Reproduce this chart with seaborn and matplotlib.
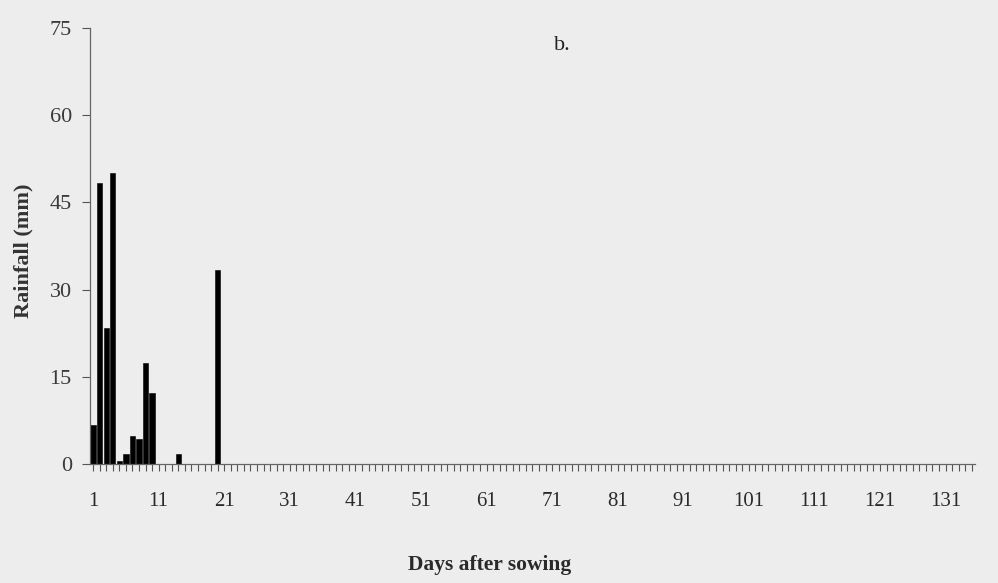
import matplotlib
matplotlib.use("Agg")
import matplotlib.pyplot as plt
import seaborn as sns
import pandas as pd

# dias com chuva (dias após semeadura) e lâmina em mm
dias_chuva = [1, 2, 3, 4, 5, 6, 7, 8, 9, 10, 14, 20]
chuva_mm = [6.7, 48.4, 23.4, 50.1, 0.6, 1.7, 4.8, 4.3, 17.3, 12.3, 1.7, 33.4]
ultimo_dia = 135
y_ticks = [0, 15, 30, 45, 60, 75]

dias = list(range(1, ultimo_dia + 1))
serie = dict(zip(dias_chuva, chuva_mm))
df = pd.DataFrame({"dia": dias, "chuva": [serie.get(d, 0.0) for d in dias]})

sns.set_theme(style="ticks")
plt.rcParams["font.family"] = ["Liberation Serif", "DejaVu Serif"]

fundo = "#ededed"
fig = plt.figure(figsize=(9.98, 5.83), dpi=100, facecolor=fundo)
ax = fig.add_axes([0.090, 0.204, 0.887, 0.748])
ax.set_facecolor(fundo)

sns.barplot(data=df, x="dia", y="chuva", color="black", width=0.8,
            saturation=1, edgecolor="black", linewidth=0.4, ax=ax, order=dias)

ax.set_ylim(0, 75)
ax.set_yticks(y_ticks)
ax.set_yticklabels([str(v) for v in y_ticks], fontsize=16, color="#3a3a3a")
ax.set_xlim(-0.5, len(dias) - 0.5)
ax.set_xticks(range(len(dias)))
ax.set_xticklabels([str(d) if (d - 1) % 10 == 0 else "" for d in dias],
                   fontsize=15, color="#2a2a2a")
ax.tick_params(axis="x", length=5, width=0.8, color="#555555", pad=15)
ax.tick_params(axis="y", length=6, width=0.8, color="#555555", pad=7)

sns.despine(ax=ax)
for s in ["left", "bottom"]:
    ax.spines[s].set_color("#666666")
    ax.spines[s].set_linewidth(0.9)

ax.set_ylabel("Rainfall (mm)", fontsize=16, fontweight="bold", color="#333333")
ax.yaxis.set_label_coords(-0.064, 0.49)
ax.set_xlabel("Days after sowing", fontsize=15.5, fontweight="bold", color="#2a2a2a")
ax.xaxis.set_label_coords(0.452, -0.208)
ax.text(0.534, 0.96, "b.", transform=ax.transAxes, fontsize=16, color="#222222",
        ha="center", va="center")

fig.savefig("out.png", dpi=100, facecolor=fig.get_facecolor())
plt.close()
